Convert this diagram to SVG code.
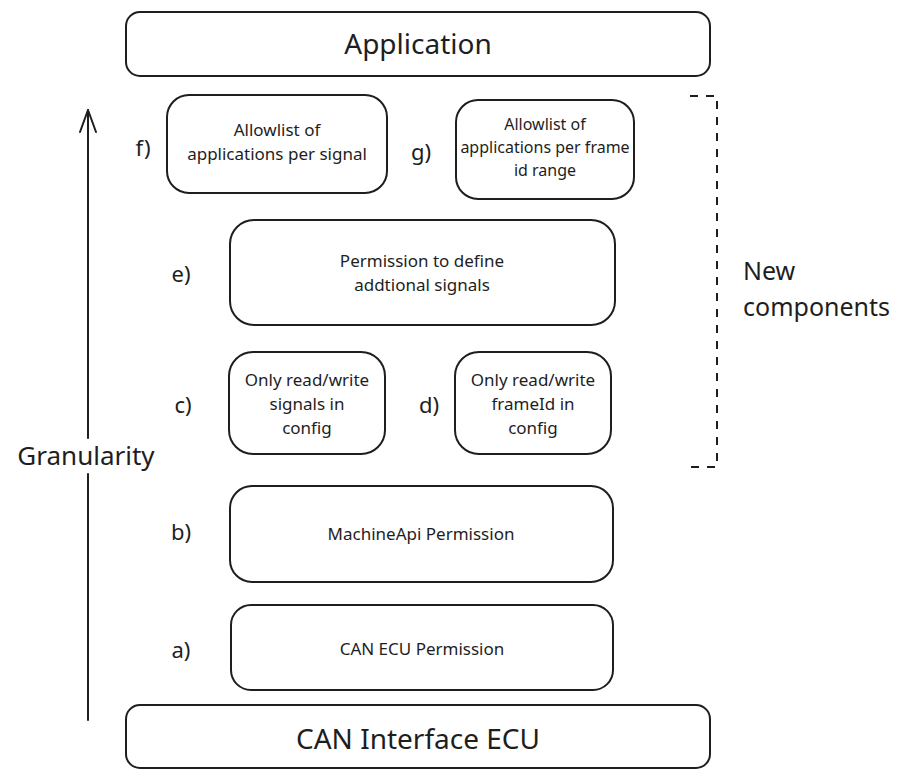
<svg xmlns="http://www.w3.org/2000/svg" width="901" height="770" viewBox="0 0 901 770">
  <style>
    .box { fill: #ffffff; stroke: #1e1e1e; stroke-width: 2; }
    .t { font-family: "Noto Sans", "DejaVu Sans", sans-serif; fill: #1e1e1e; text-anchor: middle; }
    .big { font-size: 28px; }
    .mid { font-size: 17px; }
    .narrow { font-size: 16px; }
    .lbl { font-size: 22px; }
    .axis { font-size: 26px; }
    .side { font-size: 25px; text-anchor: start; }
    .line { stroke: #1e1e1e; stroke-width: 2; fill: none; stroke-linecap: round; }
    .dash { stroke: #1e1e1e; stroke-width: 2; fill: none; stroke-dasharray: 8 8; }
  </style>
  <defs>
    <!-- open chevron pointing along the path direction -->
    <marker id="open-arrow" markerWidth="26" markerHeight="20" refX="24" refY="10" orient="auto" markerUnits="userSpaceOnUse" viewBox="0 0 26 20">
      <path d="M2,2 L24,10 L2,18" fill="none" stroke="#1e1e1e" stroke-width="2" stroke-linecap="round" stroke-linejoin="round"/>
    </marker>
  </defs>

  <rect width="901" height="770" fill="#ffffff"/>

  <g id="connectors">
    <!-- granularity axis, broken around its label -->
    <path class="line" d="M88,720 L88,474"/>
    <path class="line" d="M88,438 L88,110" marker-end="url(#open-arrow)"/>
    <!-- bracket grouping the new components -->
    <path class="dash" d="M690,96 L717,96 L717,467 L690,467"/>
  </g>

  <g id="application">
    <rect class="box" x="126" y="12" width="584" height="64" rx="14"/>
    <text class="t big" x="418" y="54">Application</text>
  </g>

  <g id="node-f">
    <rect class="box" x="167" y="95" width="220" height="98" rx="22"/>
    <text class="t mid" x="277" y="136">Allowlist of</text>
    <text class="t mid" x="277" y="160">applications per signal</text>
  </g>

  <g id="node-g">
    <rect class="box" x="456" y="100" width="178" height="99" rx="22"/>
    <text class="t narrow" x="545" y="130">Allowlist of</text>
    <text class="t narrow" x="545" y="153">applications per frame</text>
    <text class="t narrow" x="545" y="176">id range</text>
  </g>

  <g id="node-e">
    <rect class="box" x="230" y="220" width="385" height="105" rx="24"/>
    <text class="t mid" x="422" y="267">Permission to define</text>
    <text class="t mid" x="422" y="291">addtional signals</text>
  </g>

  <g id="node-c">
    <rect class="box" x="229" y="352" width="156" height="102" rx="24"/>
    <text class="t mid" x="307" y="386">Only read/write</text>
    <text class="t mid" x="307" y="410">signals in</text>
    <text class="t mid" x="307" y="434">config</text>
  </g>

  <g id="node-d">
    <rect class="box" x="455" y="352" width="156" height="102" rx="24"/>
    <text class="t mid" x="533" y="386">Only read/write</text>
    <text class="t mid" x="533" y="410">frameId in</text>
    <text class="t mid" x="533" y="434">config</text>
  </g>

  <g id="node-b">
    <rect class="box" x="230" y="486" width="383" height="96" rx="22"/>
    <text class="t mid" x="421" y="540">MachineApi Permission</text>
  </g>

  <g id="node-a">
    <rect class="box" x="231" y="605" width="382" height="85" rx="20"/>
    <text class="t mid" x="422" y="655">CAN ECU Permission</text>
  </g>

  <g id="can-interface">
    <rect class="box" x="126" y="705" width="584" height="63" rx="14"/>
    <text class="t big" x="418" y="749">CAN Interface ECU</text>
  </g>

  <g id="labels">
    <text class="t lbl" x="143" y="156">f)</text>
    <text class="t lbl" x="421" y="160">g)</text>
    <text class="t lbl" x="181" y="282">e)</text>
    <text class="t lbl" x="183" y="413">c)</text>
    <text class="t lbl" x="429" y="413">d)</text>
    <text class="t lbl" x="181" y="540">b)</text>
    <text class="t lbl" x="181" y="658">a)</text>
    <text class="t axis" x="86" y="465">Granularity</text>
    <text class="t side" x="743" y="280">New</text>
    <text class="t side" x="743" y="316">components</text>
  </g>
</svg>
